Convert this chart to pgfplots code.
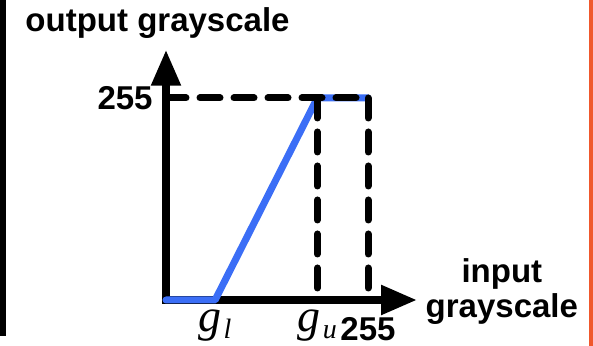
\documentclass[border=0pt]{standalone}
\usepackage{fontspec}
\setmainfont{Liberation Sans}
\newfontfamily\tnr{Liberation Serif}
\usepackage{pgfplots}
\pgfplotsset{compat=1.18}
\usetikzlibrary{arrows.meta}
\definecolor{lineblue}{RGB}{59,110,246}
\definecolor{sideorange}{RGB}{240,88,44}
\newcommand{\gsub}[1]{{\tnr\mdseries\itshape\fontsize{23}{23}\selectfont g\kern1pt\raisebox{-3.5pt}{\fontsize{14}{14}\selectfont #1}}}
\begin{document}
\begin{tikzpicture}
\useasboundingbox (-83pt,-23pt) rectangle (213.5pt,150pt);
\fill (-83pt,150pt) rectangle (-80pt,-18pt);
\draw[sideorange, line width=2pt] (212.25pt,150pt) -- (212.25pt,-23pt);
\begin{axis}[
 at={(0pt,0pt)}, anchor=origin,
 x=0.39608pt, y=0.39608pt,
 xmin=0, xmax=317, ymin=0, ymax=316,
 axis lines=left,
 axis line style={line width=4pt, line cap=rect, -{Triangle[length=18pt,width=14pt]}},
 clip=false,
 xtick={62,191,255}, ytick={255},
 xticklabels={\gsub{l}, \gsub{u}, \raisebox{-4.5pt}{\textbf{255}}},
 yticklabels={\textbf{255}},
 major tick length=0pt,
 xticklabel style={anchor=base, inner sep=0pt, yshift=-16pt},
 yticklabel style={anchor=east, inner sep=0pt, xshift=-6.5pt},
 tick label style={font=\fontsize{16.5}{19.8}\selectfont\bfseries},
]
\addplot[lineblue, line width=3.5pt, line cap=round, line join=round] coordinates {(0,0) (62,0) (191,255) (255,255)};
\addplot[black, line width=3.5pt, line cap=round, dash pattern=on 10pt off 7pt] coordinates {(0,255) (255,255)};
\addplot[black, line width=3.5pt, line cap=round, dash pattern=on 10pt off 7pt] coordinates {(191,255) (191,0)};
\addplot[black, line width=3.5pt, line cap=round, dash pattern=on 10pt off 7pt] coordinates {(255,255) (255,0)};
\node[anchor=base, font=\fontsize{16.5}{19.8}\selectfont\bfseries] at (axis cs:-10.7,338.4) {output grayscale};
\node[anchor=base, font=\fontsize{16.5}{19.8}\selectfont\bfseries] at (axis cs:424,21.5) {input};
\node[anchor=base, font=\fontsize{16.5}{19.8}\selectfont\bfseries] at (axis cs:424,-22.7) {grayscale};
\end{axis}
\end{tikzpicture}
\end{document}
